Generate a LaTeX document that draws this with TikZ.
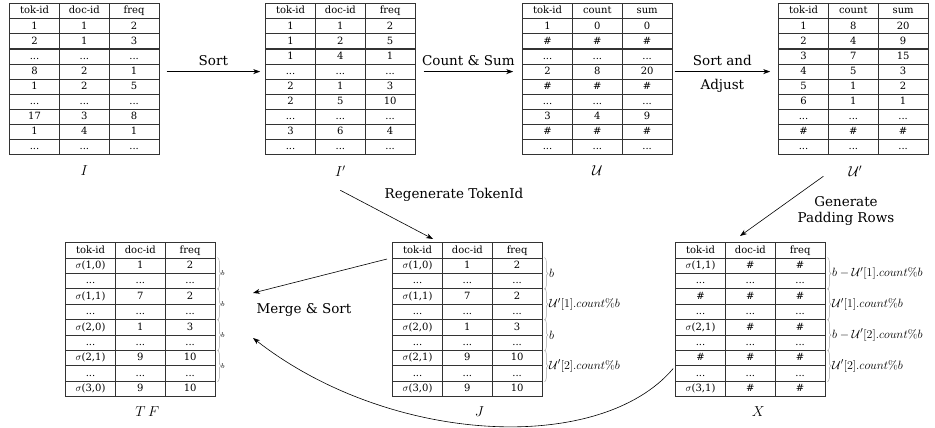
\documentclass[tikz,border=0pt]{standalone}
\usepackage[no-math]{fontspec}
\setmainfont{DejaVu Serif}
\usetikzlibrary{matrix, positioning, arrows.meta, decorations.pathreplacing}

\tikzset{
	tbl/.style={matrix of nodes, anchor=north west, inner sep=0pt,
		column sep=-0.9pt, row sep=-0.9pt,
		nodes={draw=black!80, line width=0.9pt, minimum width=49.8pt, minimum height=#1,
			inner sep=0pt, text height=7.4pt, text depth=2pt, font=\fontsize{10}{12}\selectfont}},
	lbl/.style={font=\Large},
	albl/.style={font=\fontsize{13.5}{16}\selectfont},
	arr/.style={-{Stealth[length=7pt,width=5pt]}, line width=0.6pt},
	brc/.style={decorate, decoration={brace, amplitude=3.5pt}, draw=black!35, line width=0.5pt},
	blbl/.style={right=1pt, font=\fontsize{12.5}{15}\selectfont},
	slbl/.style={right=0pt, font=\scriptsize},
}

\begin{document}
\begin{tikzpicture}[x=1pt, y=-1pt]
	\useasboundingbox (0,0) rectangle (935,428);

	% top row
	\matrix (tI) [tbl=15.1pt] at (9,3) {
		tok-id & doc-id & freq \\
		1 & 1 & 2 \\
		2 & 1 & 3 \\
		... & ... & ... \\
		8 & 2 & 1 \\
		1 & 2 & 5 \\
		... & ... & ... \\
		17 & 3 & 8 \\
		1 & 4 & 1 \\
		... & ... & ... \\
	};
	\matrix (tIp) [tbl=15.1pt] at (265,3) {
		tok-id & doc-id & freq \\
		1 & 1 & 2 \\
		1 & 2 & 5 \\
		1 & 4 & 1 \\
		... & ... & ... \\
		2 & 1 & 3 \\
		2 & 5 & 10 \\
		... & ... & ... \\
		3 & 6 & 4 \\
		... & ... & ... \\
	};
	\matrix (tU) [tbl=15.1pt] at (522,3) {
		tok-id & count & sum \\
		1 & 0 & 0 \\
		\# & \# & \# \\
		... & ... & ... \\
		2 & 8 & 20 \\
		\# & \# & \# \\
		... & ... & ... \\
		3 & 4 & 9 \\
		\# & \# & \# \\
		... & ... & ... \\
	};
	\matrix (tUp) [tbl=15.1pt] at (778,3) {
		tok-id & count & sum \\
		1 & 8 & 20 \\
		2 & 4 & 9 \\
		3 & 7 & 15 \\
		4 & 5 & 3 \\
		5 & 1 & 2 \\
		6 & 1 & 1 \\
		... & ... & ... \\
		\# & \# & \# \\
		... & ... & ... \\
	};
	\node[lbl, below=7pt of tI] (lI) {$I$};
	\node[lbl, below=7pt of tIp] (lIp) {$I'$};
	\node[lbl, below=7pt of tU] (lU) {$\mathcal{U}$};
	\node[lbl, below=7pt of tUp, xshift=2pt] (lUp) {$\mathcal{U}'$};

	% bottom row
	\matrix (tTF) [tbl=15.4pt] at (65,242) {
		tok-id & doc-id & freq \\
		$\sigma$(1,0) & 1 & 2 \\
		... & ... & ... \\
		$\sigma$(1,1) & 7 & 2 \\
		... & ... & ... \\
		$\sigma$(2,0) & 1 & 3 \\
		... & ... & ... \\
		$\sigma$(2,1) & 9 & 10 \\
		... & ... & ... \\
		$\sigma$(3,0) & 9 & 10 \\
	};
	\matrix (tJ) [tbl=15.4pt] at (392,242) {
		tok-id & doc-id & freq \\
		$\sigma$(1,0) & 1 & 2 \\
		... & ... & ... \\
		$\sigma$(1,1) & 7 & 2 \\
		... & ... & ... \\
		$\sigma$(2,0) & 1 & 3 \\
		... & ... & ... \\
		$\sigma$(2,1) & 9 & 10 \\
		... & ... & ... \\
		$\sigma$(3,0) & 9 & 10 \\
	};
	\matrix (tX) [tbl=15.4pt] at (675,242) {
		tok-id & doc-id & freq \\
		$\sigma$(1,1) & \# & \# \\
		... & ... & ... \\
		\# & \# & \# \\
		... & ... & ... \\
		$\sigma$(2,1) & \# & \# \\
		... & ... & ... \\
		\# & \# & \# \\
		... & ... & ... \\
		$\sigma$(3,1) & \# & \# \\
	};
	\node[lbl, below=6pt of tTF, xshift=7pt] (lTF) {$T\,F$};
	\node[lbl, below=6pt of tJ, xshift=12pt] (lJ) {$J$};
	\node[lbl, below=6pt of tX, xshift=8pt] (lX) {$X$};

	% braces
	\draw[brc] ([xshift=2pt]tTF-2-3.north east) -- ([xshift=2pt]tTF-3-3.south east) node[midway, slbl] {$b$};
	\draw[brc] ([xshift=2pt]tTF-4-3.north east) -- ([xshift=2pt]tTF-5-3.south east) node[midway, slbl] {$b$};
	\draw[brc] ([xshift=2pt]tTF-6-3.north east) -- ([xshift=2pt]tTF-7-3.south east) node[midway, slbl] {$b$};
	\draw[brc] ([xshift=2pt]tTF-8-3.north east) -- ([xshift=2pt]tTF-9-3.south east) node[midway, slbl] {$b$};

	\draw[brc] ([xshift=2pt]tJ-2-3.north east) -- ([xshift=2pt]tJ-3-3.south east) node[midway, blbl] {$b$};
	\draw[brc] ([xshift=2pt]tJ-4-3.north east) -- ([xshift=2pt]tJ-5-3.south east) node[midway, blbl] {$\mathcal{U}'[1].count\%b$};
	\draw[brc] ([xshift=2pt]tJ-6-3.north east) -- ([xshift=2pt]tJ-7-3.south east) node[midway, blbl] {$b$};
	\draw[brc] ([xshift=2pt]tJ-8-3.north east) -- ([xshift=2pt]tJ-9-3.south east) node[midway, blbl] {$\mathcal{U}'[2].count\%b$};

	\draw[brc] ([xshift=2pt]tX-2-3.north east) -- ([xshift=2pt]tX-3-3.south east) node[midway, blbl] {$b-\mathcal{U}'[1].count\%b$};
	\draw[brc] ([xshift=2pt]tX-4-3.north east) -- ([xshift=2pt]tX-5-3.south east) node[midway, blbl] {$\mathcal{U}'[1].count\%b$};
	\draw[brc] ([xshift=2pt]tX-6-3.north east) -- ([xshift=2pt]tX-7-3.south east) node[midway, blbl] {$b-\mathcal{U}'[2].count\%b$};
	\draw[brc] ([xshift=2pt]tX-8-3.north east) -- ([xshift=2pt]tX-9-3.south east) node[midway, blbl] {$\mathcal{U}'[2].count\%b$};

	% arrows
	\draw[arr] ([xshift=7pt]tI-5-3.east) -- node[albl, above=2pt] {Sort} ([xshift=-5pt]tIp-5-1.west);
	\draw[arr] ([xshift=8pt]tIp-5-3.east) -- node[albl, above=2pt] {Count \& Sum} ([xshift=-9pt]tU-5-1.west);
	\draw[arr] ([xshift=2pt]tU-5-3.east) -- node[albl, above=2pt] {Sort and} node[albl, below=4pt] {Adjust} ([xshift=-8pt]tUp-5-1.west);

	\draw[arr] ([yshift=-35pt]tIp.south) -- ([xshift=41pt, yshift=3pt]tJ.north west);
	\node[albl] (rg) at (454,195) {Regenerate TokenId};
	\draw[arr] ([xshift=-30pt, yshift=-21pt]tUp.south) -- ([xshift=65pt, yshift=6pt]tX.north west);
	\node[albl, align=center] (gp) at (846,211) {Generate\\Padding Rows};

	\coordinate (mTop) at (253,293);
	\coordinate (mBot) at (253,338);
	\draw[arr] ([xshift=-5pt, yshift=-17pt]tJ.north west) -- (mTop);
	\node[albl] (ms) at (304,310) {Merge \& Sort};
	\draw[arr] ([xshift=-2pt, yshift=5pt]tX-9-1.west) .. controls (600,455) and (390,445) .. (mBot);
\end{tikzpicture}
\end{document}
